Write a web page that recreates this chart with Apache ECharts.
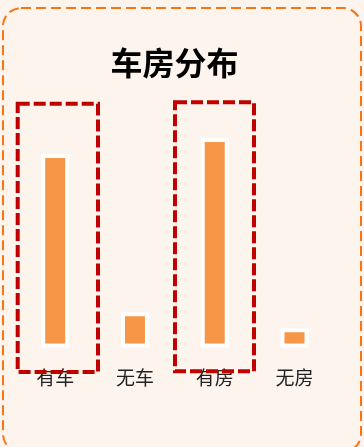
<!DOCTYPE html>
<html>
<head>
<meta charset="utf-8">
<script src="https://cdn.jsdelivr.net/npm/echarts@6/dist/echarts.min.js"></script>
<style>
  html, body { margin: 0; padding: 0; background: #fdf4ee; }
  #chart { width: 364px; height: 447px; }
</style>
</head>
<body>
<div id="chart"></div>
<script>
// 车房分布：有车/无车、有房/无房 占比（%）
const categories = ['有车', '无车', '有房', '无房'];
const shares = [84.6, 15.4, 91.6, 8.4];
const chartTitle = '车房分布';

const FONT = '"Noto Sans CJK SC", "Noto Sans", sans-serif';

const chart = echarts.init(document.getElementById('chart'), null, { renderer: 'canvas' });

chart.setOption({
  backgroundColor: '#fdf4ee',
  animation: false,
  grid: { left: 15.3, right: 29.6, top: 118.9, bottom: 99.5 },
  xAxis: {
    type: 'category',
    data: categories,
    axisLine: { show: false },
    axisTick: { show: false },
    axisLabel: { fontFamily: FONT, fontSize: 19, color: '#222', margin: 21 }
  },
  yAxis: { type: 'value', min: 0, max: 100, show: false },
  series: [{
    type: 'bar',
    data: shares,
    barWidth: 28,
    itemStyle: { color: '#f79646', borderColor: '#ffffff', borderWidth: 4 }
  }],
  graphic: [
    // title
    {
      type: 'text', z: 100, silent: true,
      x: 174.5, y: 63,
      style: {
        text: chartTitle,
        font: 'bold 32px ' + FONT,
        fill: '#000',
        textAlign: 'center',
        textVerticalAlign: 'middle'
      }
    },
    // outer card outline
    {
      type: 'rect', z: 100, silent: true,
      shape: { x: 3, y: 8, width: 358, height: 444, r: 18 },
      style: { fill: null, stroke: '#fb7412', lineWidth: 2, lineDash: [10, 5] }
    },
    // highlight frames
    {
      type: 'rect', z: 100, silent: true,
      shape: { x: 17.7, y: 103.7, width: 80.3, height: 268.3 },
      style: { fill: null, stroke: '#c00000', lineWidth: 4, lineDash: [12, 4] }
    },
    {
      type: 'rect', z: 100, silent: true,
      shape: { x: 175, y: 102.3, width: 79, height: 269 },
      style: { fill: null, stroke: '#c00000', lineWidth: 4, lineDash: [12, 4] }
    }
  ]
});
</script>
</body>
</html>
